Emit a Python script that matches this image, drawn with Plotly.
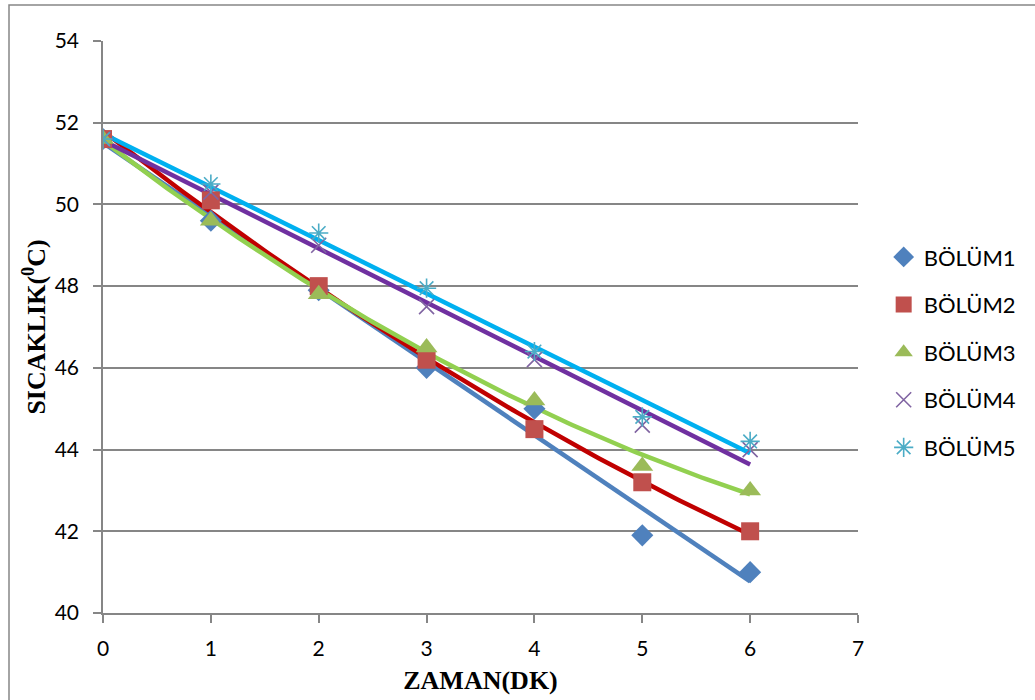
import numpy as np
import plotly.graph_objects as go

# Time (minutes) and temperature readings per section
zaman = [0, 1, 2, 3, 4, 5, 6]
bolum1 = [51.6, 49.6, 47.9, 46.0, 45.0, 41.9, 41.0]
bolum2 = [51.6, 50.1, 48.0, 46.2, 44.5, 43.2, 42.0]
bolum3 = [51.6, 49.6, 47.8, 46.5, 45.2, 43.6, 43.0]
bolum4 = [51.6, 50.3, 49.0, 47.5, 46.2, 44.6, 44.0]
bolum5 = [51.6, 50.5, 49.3, 47.95, 46.4, 44.8, 44.2]

names = ["BÖLÜM1", "BÖLÜM2", "BÖLÜM3", "BÖLÜM4", "BÖLÜM5"]
series = [bolum1, bolum2, bolum3, bolum4, bolum5]
fit_degree = [1, 2, 2, 1, 1]

marker_colors = ["#4F81BD", "#C0504D", "#9BBB59", "#8064A2", "#4BACC6"]
line_colors = ["#4F81BD", "#C00000", "#92D050", "#7030A0", "#00B0F0"]
symbols = ["diamond", "square", "triangle-up", "x-thin-open", "asterisk-open"]
sizes = [17, 18, 19, 15, 16]

fig = go.Figure()

# Trend lines fitted to each section's readings
xs = np.linspace(0, 6, 121)
for vals, deg, col in zip(series, fit_degree, line_colors):
    coef = np.polyfit(zaman, vals, deg)
    fig.add_trace(go.Scatter(
        x=xs, y=np.polyval(coef, xs), mode="lines",
        line=dict(color=col, width=4.5), showlegend=False, hoverinfo="skip",
    ))

# Measured points
for i, (name, vals) in enumerate(zip(names, series)):
    open_sym = symbols[i].endswith("open")
    fig.add_trace(go.Scatter(
        x=zaman, y=vals, mode="markers", name=name, legendgroup=name,
        marker=dict(
            symbol=symbols[i], size=sizes[i], color=marker_colors[i],
            line=dict(color=marker_colors[i], width=1.6 if open_sym else 0),
        ),
    ))

axis_font = dict(family="Lato, Open Sans, sans-serif", size=21, color="#000000")
title_font = dict(family="Liberation Serif, Times New Roman, serif", size=26, color="#000000")

fig.update_layout(
    width=1035, height=700,
    margin=dict(l=103, r=177, t=41, b=87),
    paper_bgcolor="white", plot_bgcolor="white",
    showlegend=True,
    legend=dict(
        x=1.034, y=0.456, xanchor="left", yanchor="middle",
        font=dict(family="Lato, Open Sans, sans-serif", size=22, color="#000000"),
        tracegroupgap=16,
    ),
    xaxis=dict(
        range=[0, 7], dtick=1, tick0=0, showgrid=False, zeroline=False,
        showline=True, linecolor="#868686", linewidth=1.5,
        ticks="outside", ticklen=8, tickcolor="#868686", tickwidth=1.5,
        tickfont=axis_font, ticklabelstandoff=8, automargin=False,
        title=dict(text="<b>ZAMAN(DK)</b>", standoff=12, font=title_font),
    ),
    yaxis=dict(
        range=[40, 54], dtick=2, tick0=40, showgrid=True, gridcolor="#868686", gridwidth=1.5,
        zeroline=False, showline=True, linecolor="#868686", linewidth=1.5,
        ticks="outside", ticklen=8, tickcolor="#868686", tickwidth=1.5,
        tickfont=axis_font, ticklabelstandoff=10, automargin=False,
        title=dict(text="<b>SICAKLIK(<sup>0</sup>C)</b>", standoff=2, font=title_font),
    ),
    shapes=[dict(
        type="rect", xref="paper", yref="paper",
        x0=(9 - 103) / 755, x1=(1045 - 103) / 755,
        y0=(613 - 710) / 572, y1=(613 - 5) / 572,
        line=dict(color="#868686", width=1.5), fillcolor="rgba(0,0,0,0)", layer="below",
    )],
)

fig.write_html("out.html")
